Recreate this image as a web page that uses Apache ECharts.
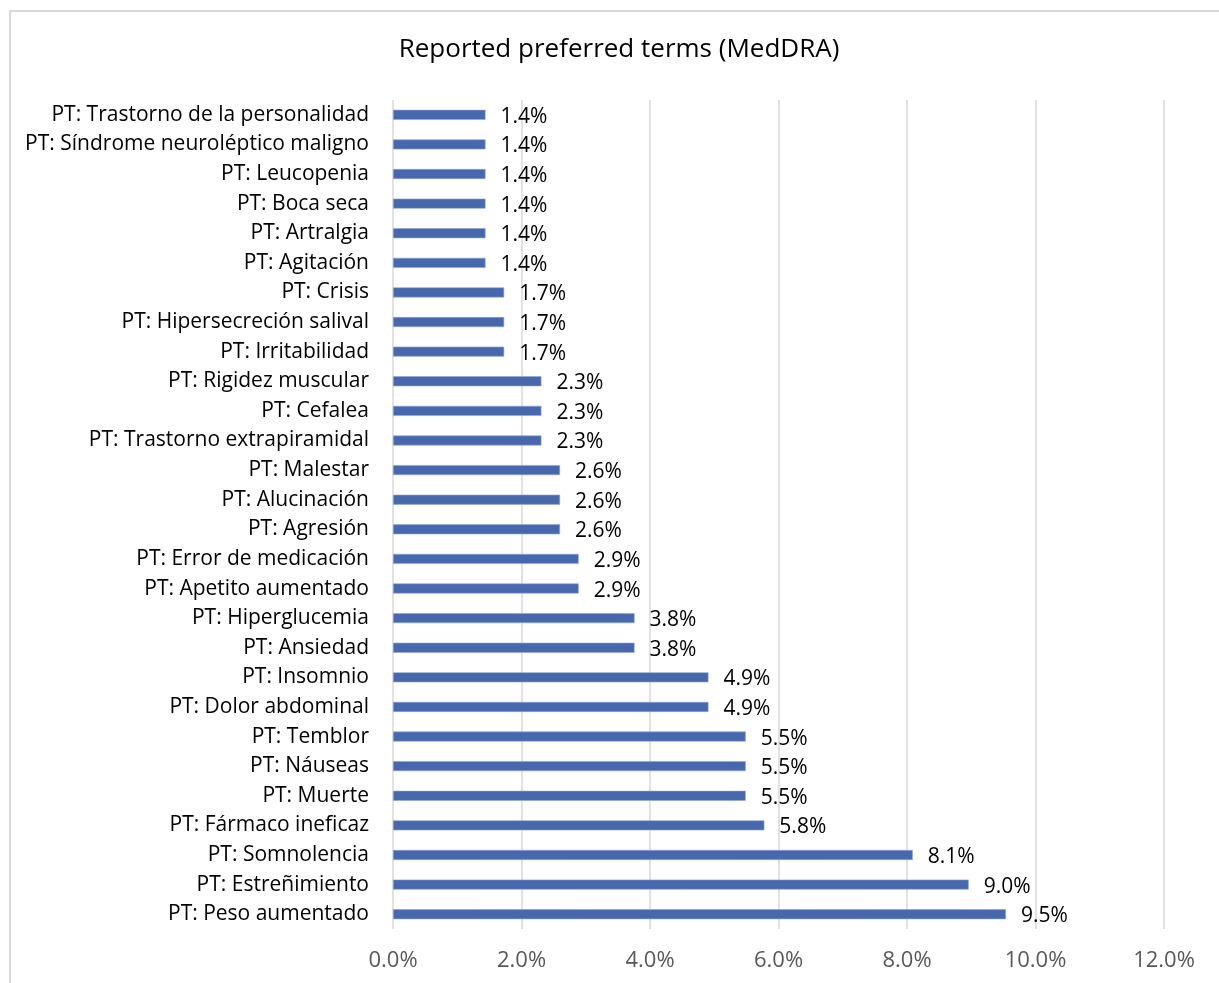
<!DOCTYPE html>
<html>
<head>
<meta charset="utf-8">
<script src="https://cdn.jsdelivr.net/npm/echarts@6/dist/echarts.min.js"></script>
<style>
    html, body { margin: 0; padding: 0; background: #fff; }
    #frame {
        position: absolute;
        left: 9px;
        top: 10px;
        width: 1240px;
        height: 1000px;
        border: 2px solid #d9d9d9;
        box-sizing: border-box;
    }
    #chart { position: absolute; left: 0; top: 0; width: 1219px; height: 983px; }
</style>
</head>
<body>
<div id="frame"></div>
<div id="chart"></div>
<script>
// términos preferentes, de arriba a abajo
const terms = [
    "PT: Trastorno de la personalidad",
    "PT: Síndrome neuroléptico maligno",
    "PT: Leucopenia",
    "PT: Boca seca",
    "PT: Artralgia",
    "PT: Agitación",
    "PT: Crisis",
    "PT: Hipersecreción salival",
    "PT: Irritabilidad",
    "PT: Rigidez muscular",
    "PT: Cefalea",
    "PT: Trastorno extrapiramidal",
    "PT: Malestar",
    "PT: Alucinación",
    "PT: Agresión",
    "PT: Error de medicación",
    "PT: Apetito aumentado",
    "PT: Hiperglucemia",
    "PT: Ansiedad",
    "PT: Insomnio",
    "PT: Dolor abdominal",
    "PT: Temblor",
    "PT: Náuseas",
    "PT: Muerte",
    "PT: Fármaco ineficaz",
    "PT: Somnolencia",
    "PT: Estreñimiento",
    "PT: Peso aumentado"
];
// porcentaje (%)
const percents = [
    1.44, 1.44, 1.44, 1.44, 1.44, 1.44,
    1.73, 1.73, 1.73,
    2.31, 2.31, 2.31,
    2.60, 2.60, 2.60,
    2.89, 2.89,
    3.76, 3.76,
    4.91, 4.91,
    5.49, 5.49, 5.49,
    5.78,
    8.09,
    8.96,
    9.54
];
const xTicks = { min: 0, max: 12, step: 2 };

const font = "'Open Sans', 'Noto Sans', sans-serif";

const myChart = echarts.init(document.getElementById("chart"));
const option = {
    animation: false,
    title: {
        text: "Reported preferred terms (MedDRA)",
        left: 614,
        top: 32,
        textAlign: "center",
        textStyle: {
            fontFamily: font,
            fontSize: 26,
            fontWeight: "normal",
            color: "#000"
        }
    },
    grid: {
        left: 393,
        right: 55,
        top: 100,
        bottom: 54,
        containLabel: false
    },
    xAxis: {
        type: "value",
        min: xTicks.min,
        max: xTicks.max,
        interval: xTicks.step,
        axisLine: { show: false },
        axisTick: { show: false },
        splitLine: {
            show: true,
            lineStyle: { color: "#d9d9d9", width: 1.5 }
        },
        axisLabel: {
            margin: 21,
            fontFamily: font,
            fontSize: 22,
            color: "#595959",
            formatter: v => v.toFixed(1) + "%"
        }
    },
    yAxis: {
        type: "category",
        inverse: true,
        data: terms,
        axisLine: { show: false },
        axisTick: { show: false },
        axisLabel: {
            margin: 24,
            fontFamily: font,
            fontSize: 21,
            color: "#000"
        }
    },
    series: [
        {
            type: "bar",
            data: percents,
            barWidth: 10,
            itemStyle: {
                color: "#4868ae",
                borderColor: "#8fa6d6",
                borderWidth: 0.6
            },
            label: {
                show: true,
                position: "right",
                distance: 15,
                offset: [0, 2],
                fontFamily: font,
                fontSize: 21,
                color: "#000",
                formatter: p => p.value.toFixed(1) + "%"
            }
        }
    ]
};
myChart.setOption(option);
window.addEventListener("resize", () => {
    myChart.resize();
});
</script>
</body>
</html>
